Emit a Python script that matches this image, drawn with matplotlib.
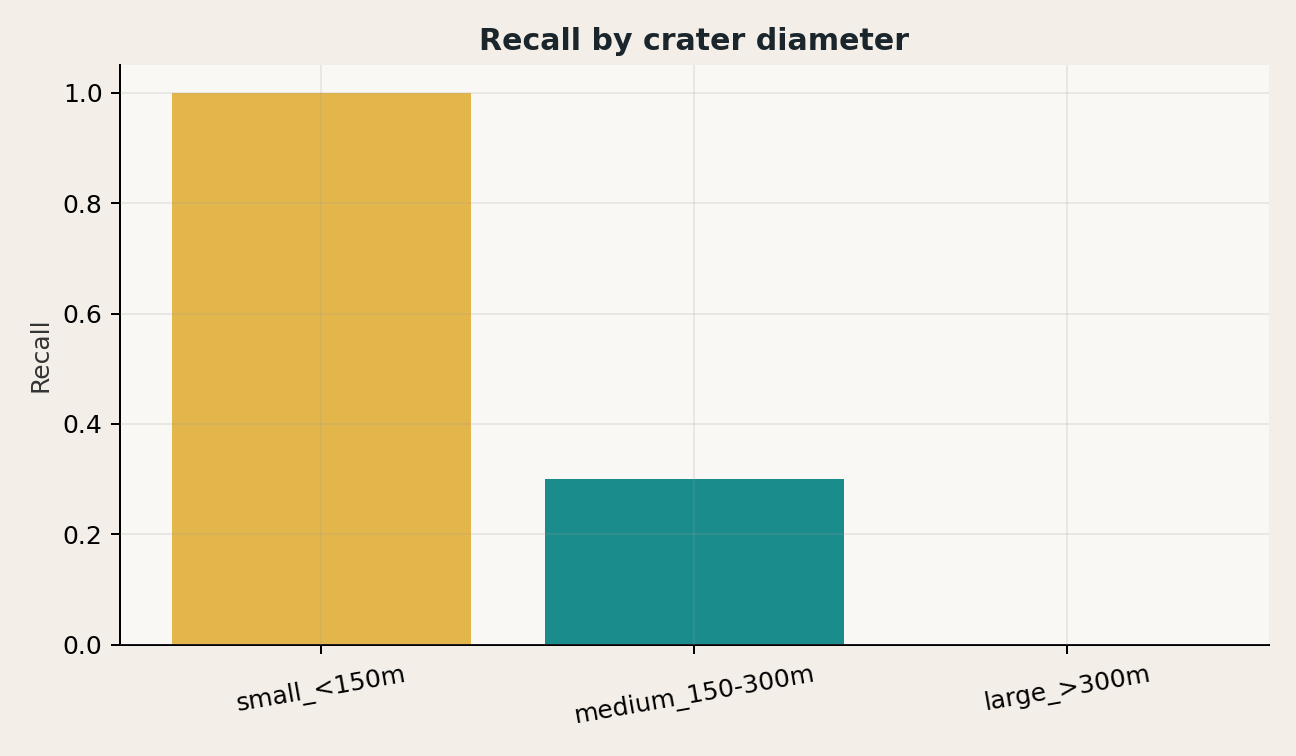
import matplotlib.pyplot as plt
import numpy as np

# Recall per size bucket
categories = ['small_<150m', 'medium_150-300m', 'large_>300m']
recall = [1.0, 0.30, 0.0]
bar_colors = ['#E3B64B', '#1A8C8C', '#C0504D']

plt.rcParams['font.family'] = ['DejaVu Sans']


def create_recall_chart():
    """Bar chart of recall per crater diameter bucket"""
    fig, ax = plt.subplots(figsize=(7.2, 4.2), dpi=180)
    fig.patch.set_facecolor('#F3EFE8')
    ax.set_facecolor('#F9F8F4')

    x = np.arange(len(categories))
    ax.bar(x, recall, width=0.8, color=bar_colors, zorder=1)

    ax.set_xticks(x)
    ax.set_xticklabels(categories, rotation=10, fontsize=10)
    ax.tick_params(axis='y', labelsize=10)
    ax.set_ylabel('Recall', fontsize=10, color='#333333')
    ax.set_title('Recall by crater diameter', fontsize=12, fontweight='bold',
                 color='#1B262C')

    # grid sits on top of the bars, faint gray
    ax.grid(True, color='#9A9A9A', alpha=0.2, linewidth=0.7, zorder=2)
    ax.set_axisbelow(False)
    for side in ['top', 'right']:
        ax.spines[side].set_visible(False)

    fig.subplots_adjust(left=0.0926, right=0.979, top=0.914, bottom=0.147)
    fig.savefig('out.png', dpi=180, facecolor=fig.get_facecolor())


if __name__ == "__main__":
    create_recall_chart()
